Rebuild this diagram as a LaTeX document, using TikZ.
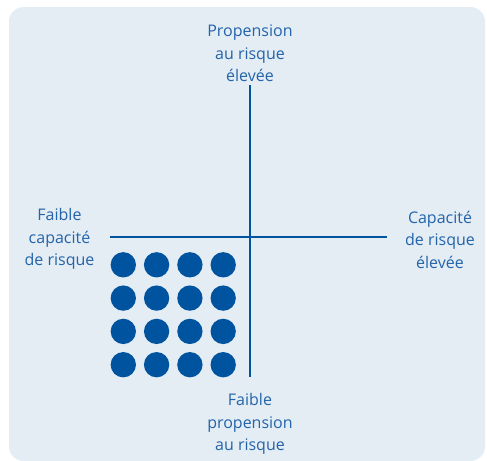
\documentclass[tikz,border=0pt]{standalone}
\usepackage{fontspec}
\setmainfont{Open Sans}
\usepackage{xcolor}
\definecolor{panelbg}{RGB}{228,236,244}
\definecolor{axisblue}{RGB}{0,84,159}
\definecolor{labelblue}{RGB}{35,100,170}

\begin{document}
\begin{tikzpicture}[x=0.75pt,y=0.75pt,yscale=-1,xscale=1,
  lbl/.style={align=center,text=labelblue,inner sep=0.75pt,
    font=\fontsize{12}{16.9}\selectfont},
  dot/.style={circle,fill=axisblue,inner sep=0pt,minimum size=19pt}]
\useasboundingbox (0,0) rectangle (487,461);

%Shape: Rounded Rectangle [panel]
\fill [panelbg, rounded corners=11pt] (9,7) rectangle (485,461);

%Axis end points
\coordinate (xl) at (110,237);
\coordinate (xr) at (387,237);
\coordinate (yt) at (250,85);
\coordinate (yb) at (250,377);

%Straight Lines [axes]
\draw [axisblue, line width=1.1]  (xl) -- (xr) ;
\draw [axisblue, line width=1.1]  (yt) -- (yb) ;

%Shape: Circles [4x4 block]
\foreach \i in {0,...,3}
  \foreach \j in {0,...,3}
    \node [dot] (d\i\j) at (123.3+33.3*\i, 264.8+33.3*\j) {};

% Text Node
\node [lbl] (ptop) at (250,53.5) {Propension\\au risque\\élevée};
% Text Node
\node [lbl] (pbot) at (250,424) {Faible\\propension\\au risque};
% Text Node
\node [lbl] (cleft) at (59.5,239) {Faible\\capacité\\de risque};
% Text Node
\node [lbl] (cright) at (440,239.5) {Capacité\\de risque\\élevée};
\end{tikzpicture}
\end{document}
